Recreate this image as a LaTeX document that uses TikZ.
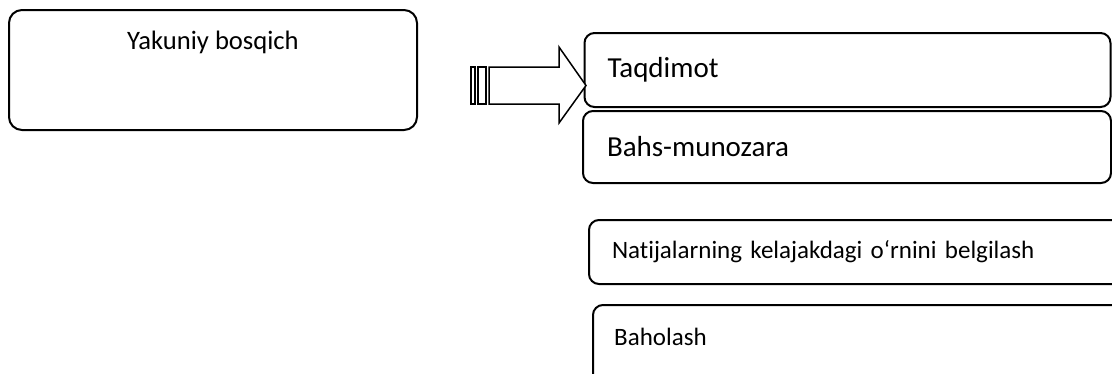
\documentclass[tikz,border=0pt]{standalone}
\usepackage{fontspec}
\setmainfont{Carlito}[Ligatures=NoCommon]
\begin{document}
\begin{tikzpicture}
	[x=1pt,y=-1pt,every node/.style={font=\fontsize{25}{30}\selectfont},
	box/.style={draw=black,line width=2pt,rounded corners=10pt,
	align=left,inner ysep=0pt},
	katta/.style={font=\fontsize{29}{34}\selectfont},
	strela/.style={draw=black,line width=1.5pt,fill=white}]
	\useasboundingbox (0,0) rectangle (1112,373);
	\clip (0,0) rectangle (1112,373);

	\node[box,rounded corners=13pt,minimum width=408pt,minimum height=120pt] (yakuniy) at (213,70) {};
	\node[font=\fontsize{26.6}{32}\selectfont] (yakuniytxt) at (213,42) {Yakuniy bosqich};

	\node[box,katta,text width=480pt,inner xsep=23pt,minimum height=74pt] (taqdimot) at (847.5,70) {Taqdimot};
	\node[box,katta,text width=480pt,inner xsep=24pt,minimum height=72pt] (bahs) at (847,147) {Bahs-munozara};
	\node[box,text width=504pt,inner xsep=23pt,minimum height=64pt] (natija) at (864,252) {Natijalarning kelajakdagi o‘rnini belgilash};
	\node[box,minimum width=560pt,minimum height=100pt] (baholash) at (873,355) {};
	\node[anchor=west,inner xsep=0pt] (baholashtxt) at (614,337) {Baholash};

	% chiziqli strelka
	\foreach \a/\b in {471/475,478/486}
	\draw[strela] (\a,67) rectangle (\b,104);
	\draw[strela] (489,67) -- (559,67) -- (559,47) -- (586,85.5) -- (559,123)
	-- (559,104) -- (489,104) -- cycle;
\end{tikzpicture}
\end{document}
